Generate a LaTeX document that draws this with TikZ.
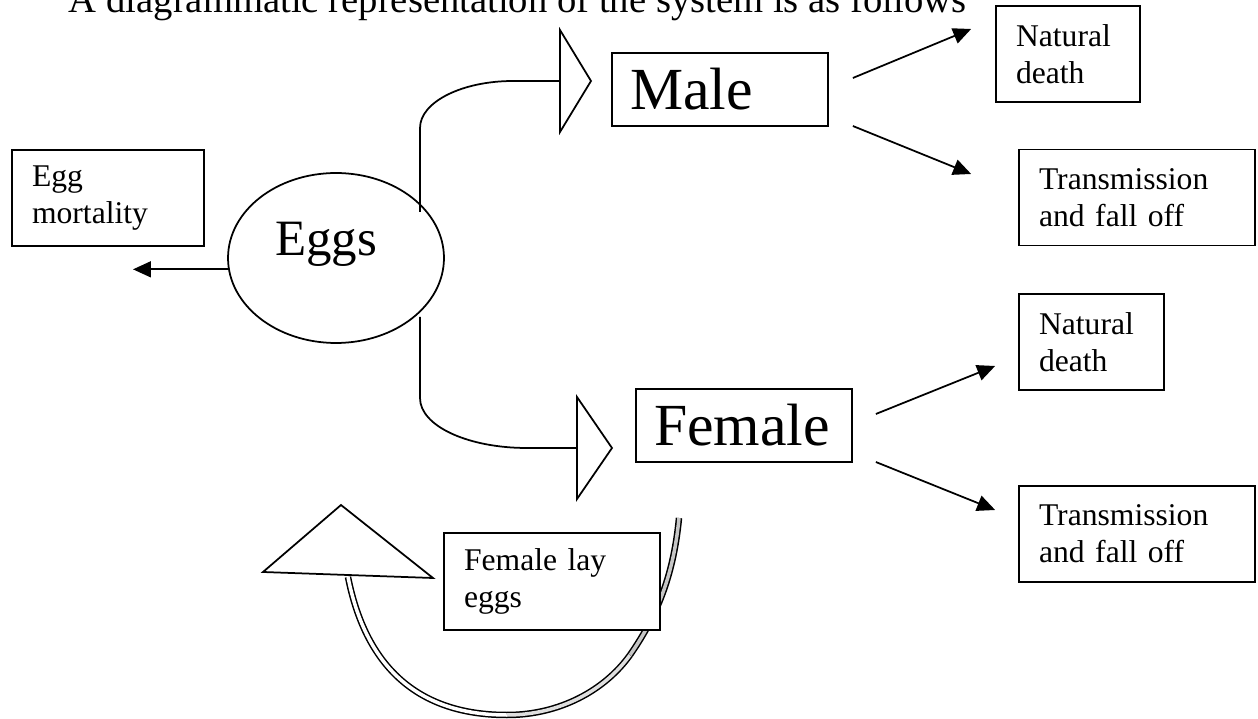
\documentclass[tikz,border=0pt]{standalone}
\usepackage{fontspec}
\setmainfont{Liberation Serif}
\usetikzlibrary{arrows.meta,shapes.geometric}

\tikzset{
  box/.style={draw, fill=white, align=left, inner xsep=4mm, text width=#1,
    minimum height=19.2mm, font=\fontsize{18}{21}\selectfont},
  bigbox/.style={draw, fill=white, align=left, inner xsep=3.6mm, inner ysep=0pt,
    text width=36mm, minimum height=14.6mm, font=\fontsize{34}{40}\selectfont},
  arr/.style={-{Triangle[length=3.6mm,width=3.2mm]}},
  openhead/.style={draw, fill=white, line join=miter},
  band/.style={line width=0.3mm, double distance=0.7mm},
}

\begin{document}
\begin{tikzpicture}[x=0.02cm, y=-0.02cm, line width=0.35mm]
\useasboundingbox (0,0) rectangle (1258,719);

\node[anchor=base west, inner sep=0pt, font=\fontsize{22}{26}\selectfont] (title) at (68,13)
  {A diagrammatic representation of the system is as follows};

% compartments
\node[ellipse, draw, minimum width=43.2mm, minimum height=34mm, inner sep=0pt,
  text depth=7.6mm, font=\fontsize{29}{34}\selectfont] (eggs) at (336,258) {Eggs\hspace*{4mm}};
\node[box=30.4mm] (mort) at (108,198) {Egg\\mortality};
\node[bigbox] (male) at (720,89.5) {Male};
\node[bigbox] (female) at (744,425.5) {Female};
\node[box=20.8mm] (nd1) at (1068,54) {Natural\\death};
\node[box=39.2mm] (tr1) at (1137,197.5) {Transmission\\and fall off};
\node[box=21mm] (nd2) at (1091.5,342) {Natural\\death};
\node[box=39.2mm] (tr2) at (1137,534) {Transmission\\and fall off};

% egg mortality
\coordinate (mortend) at (133,270);
\draw[arr] (eggs.186) -- (eggs.186 -| mortend);

% eggs hatch into males and females
\coordinate (mtail) at (420,212);
\coordinate (mhead) at (560,81);
\draw (mtail) -- (420,128) .. controls (420,102) and (462,81) .. (513,81) -- (mhead);
\draw[openhead] (mhead) ++(0,-51) -- ++(31,51) -- ++(-31,51) -- cycle;
\coordinate (ftail) at (420,317);
\coordinate (fhead) at (577,448);
\draw (ftail) -- (420,398) .. controls (420,426) and (468,448) .. (527,448) -- (fhead);
\draw[openhead] (fhead) ++(0,-51) -- ++(35,51) -- ++(-35,51) -- cycle;

% losses
\draw[arr] ([shift={(24,-11.5)}]male.east) -- ([shift={(-24,-25)}]nd1.west);
\draw[arr] ([shift={(24,36.5)}]male.east) -- ([shift={(-47,-23.5)}]tr1.west);
\draw[arr] ([shift={(23,-11.5)}]female.east) -- ([shift={(-23,24)}]nd2.west);
\draw[arr] ([shift={(23,36.5)}]female.east) -- ([shift={(-23,-24)}]tr2.west);

% females lay eggs
\draw[band, double=white] (348,577) .. controls (370,688) and (440,715) .. (507,715);
\draw[band, double=gray!25] (507,715) .. controls (560,715) and (605,690) .. (630,655);
\draw[band, double=gray!45] (630,655) .. controls (660,612) and (674,570) .. (679,518);
\draw[openhead] (263,572) -- (341,505) -- (433,578) -- cycle;
\node[box=35.2mm, minimum height=19.4mm] (lay) at (552,581.5) {Female lay\\eggs};
\end{tikzpicture}
\end{document}
